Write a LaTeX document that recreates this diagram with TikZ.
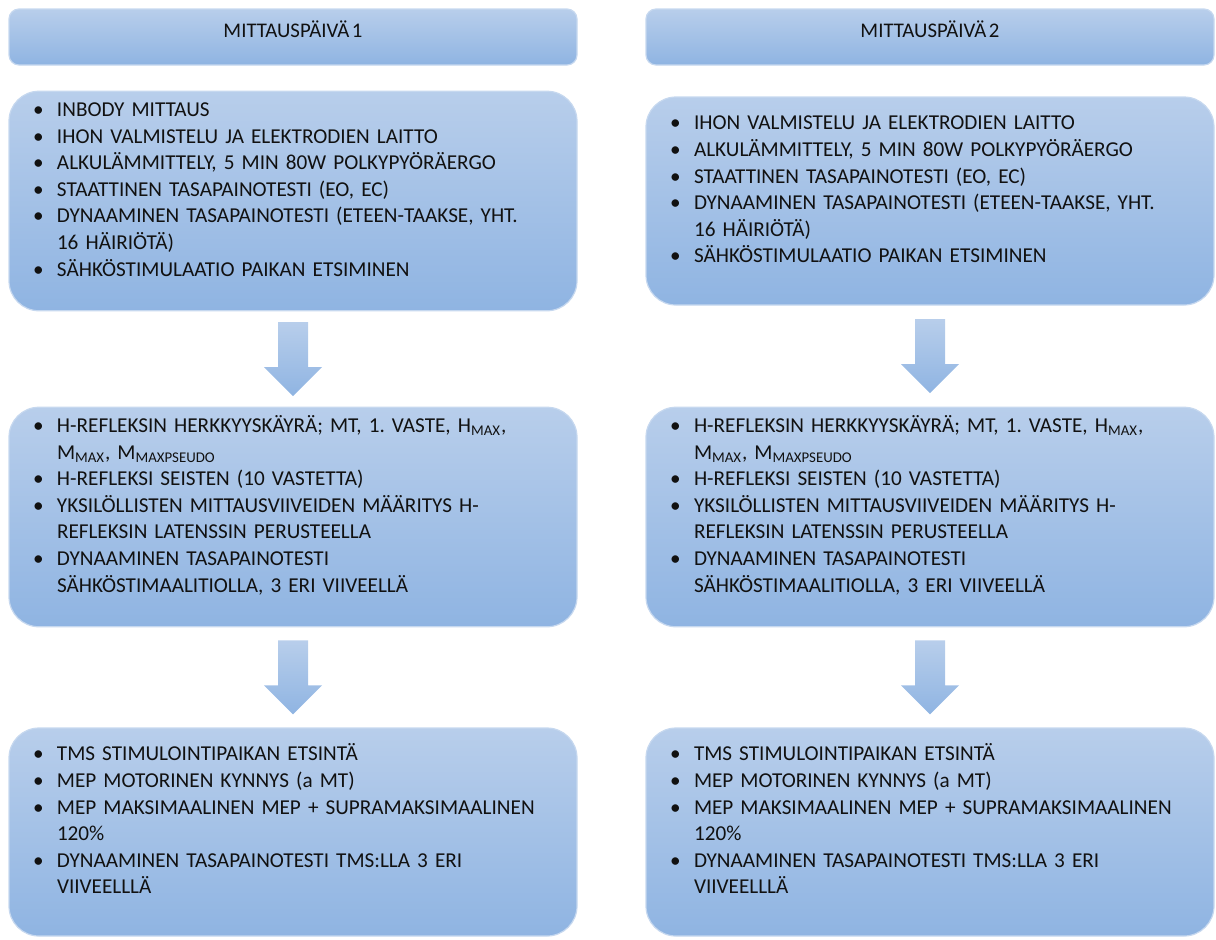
\documentclass[tikz,border=0pt]{standalone}
\usepackage{fontspec}
\setmainfont[WordSpace={0.55,0.5,0.5}]{Carlito}
\usetikzlibrary{calc}
\frenchspacing
\definecolor{Day_Top}{HTML}{B8CEEB}
\definecolor{Day_Bottom}{HTML}{8FB4E2}
\definecolor{Box_Edge}{HTML}{C6D8EF}
\definecolor{Text_Dark}{HTML}{111111}

% bullet column
\newcommand{\bul}{\textbullet}
\newcommand{\hrefleksi}{%
\begin{tabular}{@{}p{12pt}@{}l@{}}
\bul & H-REFLEKSIN HERKKYYSKÄYRÄ; MT, 1. VASTE, H\textsubscript{MAX},\\
     & M\textsubscript{MAX}, M\textsubscript{MAXPSEUDO}\\
\bul & H-REFLEKSI SEISTEN (10 VASTETTA)\\
\bul & YKSILÖLLISTEN MITTAUSVIIVEIDEN MÄÄRITYS H-\\
     & REFLEKSIN LATENSSIN PERUSTEELLA\\
\bul & DYNAAMINEN TASAPAINOTESTI\\
     & SÄHKÖSTIMAALITIOLLA, 3 ERI VIIVEELLÄ\\[10pt]
\end{tabular}}
\newcommand{\tmsosa}{%
\begin{tabular}{@{}p{12pt}@{}l@{}}
\bul & TMS STIMULOINTIPAIKAN ETSINTÄ\\
\bul & MEP MOTORINEN KYNNYS (a MT)\\
\bul & MEP MAKSIMAALINEN MEP + SUPRAMAKSIMAALINEN\\
     & 120\%\\
\bul & DYNAAMINEN TASAPAINOTESTI TMS:LLA 3 ERI\\
     & VIIVEELLLÄ\\[10pt]
\end{tabular}}

\begin{document}
\begin{tikzpicture}[x=0.5pt, y=-0.5pt,
    dayhead/.style={rounded corners=5pt, top color=Day_Top, bottom color=Day_Bottom,
        draw=Box_Edge, line width=0.6pt, minimum width=284pt, minimum height=28pt},
    stepbox/.style={rounded corners=15pt, top color=Day_Top, bottom color=Day_Bottom,
        draw=Box_Edge, line width=0.6pt, minimum width=284pt, minimum height=104pt,
        inner xsep=12pt, text width=260pt, align=left, text=Text_Dark,
        font=\fontsize{10.6}{13.3}\selectfont},
    flowarrow/.style={top color=Day_Top, bottom color=Day_Bottom}]
    \useasboundingbox (0,0) rectangle (1216,939);

    % Day headers
    \node[dayhead, label={[yshift=4pt, text=Text_Dark, font=\fontsize{10.4}{12}\selectfont]center:MITTAUSPÄIVÄ 1}] (day1) at (293,37) {};
    \node[dayhead, label={[yshift=4pt, text=Text_Dark, font=\fontsize{10.4}{12}\selectfont]center:MITTAUSPÄIVÄ 2}] (day2) at (930,37) {};

    % Day 1
    \node[stepbox] (p1) at (293,201) {%
    \begin{tabular}{@{}p{12pt}@{}l@{}}
    \bul & INBODY MITTAUS\\
    \bul & IHON VALMISTELU JA ELEKTRODIEN LAITTO\\
    \bul & ALKULÄMMITTELY, 5 MIN 80W POLKYPYÖRÄERGO\\
    \bul & STAATTINEN TASAPAINOTESTI (EO, EC)\\
    \bul & DYNAAMINEN TASAPAINOTESTI (ETEEN-TAAKSE, YHT.\\
         & 16 HÄIRIÖTÄ)\\
    \bul & SÄHKÖSTIMULAATIO PAIKAN ETSIMINEN\\[10pt]
    \end{tabular}};
    \node[stepbox] (q1) at (293,517) {\hrefleksi};
    \node[stepbox] (r1) at (293,832) {\tmsosa};

    % Day 2
    \node[stepbox] (p2) at (930,201) {%
    \begin{tabular}{@{}p{12pt}@{}l@{}}
    \bul & IHON VALMISTELU JA ELEKTRODIEN LAITTO\\
    \bul & ALKULÄMMITTELY, 5 MIN 80W POLKYPYÖRÄERGO\\
    \bul & STAATTINEN TASAPAINOTESTI (EO, EC)\\
    \bul & DYNAAMINEN TASAPAINOTESTI (ETEEN-TAAKSE, YHT.\\
         & 16 HÄIRIÖTÄ)\\
    \bul & SÄHKÖSTIMULAATIO PAIKAN ETSIMINEN\\[10pt]
    \end{tabular}};
    \node[stepbox] (q2) at (930,517) {\hrefleksi};
    \node[stepbox] (r2) at (930,832) {\tmsosa};

    % Block arrows
    \foreach \a/\b in {p1/q1, q1/r1, p2/q2, q2/r2}
        \path[flowarrow] ($(\a.south)!0.5!(\b.north)$) ++(-15,-37) -- ++(30,0) -- ++(0,45)
            -- ++(14,0) -- ++(-29,29) -- ++(-29,-29) -- ++(14,0) -- cycle;
\end{tikzpicture}
\end{document}
